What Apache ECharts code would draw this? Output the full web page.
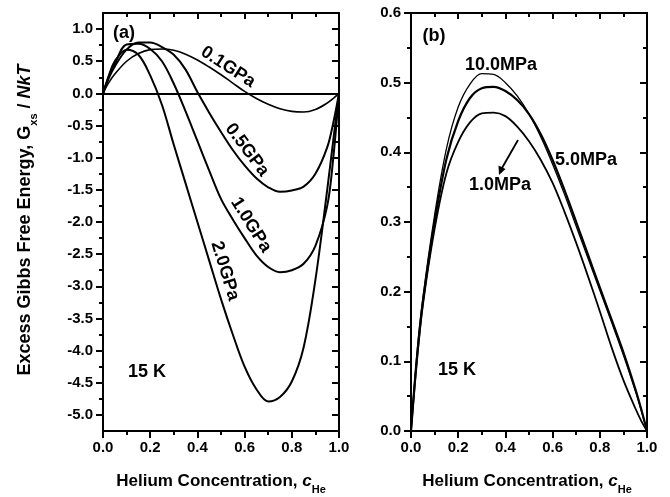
<!DOCTYPE html>
<html>
<head>
<meta charset="utf-8">
<script src="https://cdn.jsdelivr.net/npm/echarts@6/dist/echarts.min.js"></script>
<style>
html,body{margin:0;padding:0;background:#fff;}
#chart{width:670px;height:497px;}
</style>
</head>
<body>
<div id="chart"></div>
<script>
// ---------- data ----------
const conc = [0, 0.025, 0.05, 0.1, 0.15, 0.2, 0.25, 0.3, 0.35, 0.4, 0.45, 0.5, 0.55, 0.6, 0.65, 0.7, 0.75, 0.8, 0.85, 0.9, 0.95, 0.975, 1.0];

// panel (a): excess Gibbs free energy, high pressures
const g01GPa = [0, 0.17, 0.30, 0.50, 0.62, 0.68, 0.69, 0.67, 0.61, 0.52, 0.41, 0.29, 0.16, 0.03, -0.08, -0.17, -0.24, -0.28, -0.29, -0.25, -0.15, -0.08, 0];
const g05GPa = [0, 0.24, 0.42, 0.68, 0.79, 0.79, 0.72, 0.60, 0.37, 0.02, -0.30, -0.60, -0.88, -1.12, -1.32, -1.46, -1.53, -1.51, -1.45, -1.25, -0.84, -0.47, 0];
const g10GPa = [0, 0.26, 0.46, 0.76, 0.77, 0.69, 0.50, 0.15, -0.28, -0.74, -1.20, -1.64, -1.96, -2.25, -2.52, -2.70, -2.78, -2.75, -2.65, -2.37, -1.75, -1.03, 0];
const g20GPa = [0, 0.28, 0.50, 0.68, 0.60, 0.28, -0.18, -0.80, -1.40, -2.00, -2.60, -3.20, -3.75, -4.25, -4.60, -4.79, -4.72, -4.48, -3.95, -2.90, -1.50, -0.75, 0];

// panel (b): low pressures
const p10MPa = [0, 0.11, 0.19, 0.31, 0.405, 0.465, 0.498, 0.513, 0.512, 0.500, 0.481, 0.455, 0.422, 0.383, 0.340, 0.294, 0.248, 0.202, 0.156, 0.109, 0.058, 0.030, 0];
const p5MPa  = [0, 0.105, 0.185, 0.30, 0.390, 0.445, 0.478, 0.492, 0.494, 0.488, 0.475, 0.455, 0.426, 0.389, 0.346, 0.300, 0.253, 0.206, 0.160, 0.113, 0.061, 0.032, 0];
const p1MPa  = [0, 0.10, 0.18, 0.29, 0.370, 0.415, 0.443, 0.456, 0.457, 0.452, 0.437, 0.416, 0.389, 0.356, 0.315, 0.270, 0.222, 0.172, 0.120, 0.073, 0.033, 0.015, 0];

// tick values
const xTicks = [0, 0.2, 0.4, 0.6, 0.8, 1.0];
const leftYTicks = [-5.0, -4.5, -4.0, -3.5, -3.0, -2.5, -2.0, -1.5, -1.0, -0.5, 0.0, 0.5, 1.0];
const rightYTicks = [0, 0.1, 0.2, 0.3, 0.4, 0.5, 0.6];

// ---------- chart ----------
const FONT = 'Liberation Sans, Arial, sans-serif';
const leftYMinor = leftYTicks.slice(0, -1).map((v, i) => (v + leftYTicks[i + 1]) / 2);

const chart = echarts.init(document.getElementById('chart'), null, {renderer: 'canvas'});
const black = '#000';
const frameLine = {color: black, width: 2};
const tickLine = {color: black, width: 2};
const labelStyle = {color: black, fontFamily: FONT, fontWeight: 'bold', fontSize: 15};

function xAxisBottom(gi) {
  return {
    type: 'value', gridIndex: gi, position: 'bottom', min: xTicks[0], max: xTicks[xTicks.length - 1], interval: 0.2,
    axisLine: {show: true, onZero: false, lineStyle: frameLine},
    axisTick: {show: true, length: 7, lineStyle: tickLine},
    minorTick: {show: true, splitNumber: 2, length: 4, lineStyle: tickLine},
    axisLabel: Object.assign({margin: 9, formatter: v => v.toFixed(1)}, labelStyle),
    splitLine: {show: false}, minorSplitLine: {show: false}
  };
}
function xAxisTop(gi) {
  return {
    type: 'value', gridIndex: gi, position: 'top', min: xTicks[0], max: xTicks[xTicks.length - 1], interval: 0.2,
    axisLine: {show: true, onZero: false, lineStyle: frameLine},
    axisTick: {show: true, inside: true, length: 6, lineStyle: tickLine},
    minorTick: {show: true, splitNumber: 2, length: 4, lineStyle: tickLine},
    axisLabel: {show: false},
    splitLine: {show: false}, minorSplitLine: {show: false}
  };
}

function mkSeries(name, arr, xi, yi, width) {
  return {
    name: name, type: 'line', xAxisIndex: xi, yAxisIndex: yi,
    data: conc.map((c, i) => [c, arr[i]]),
    showSymbol: false, symbol: 'none', smooth: 0.35, silent: true,
    lineStyle: {color: black, width: width}, z: 3
  };
}

const lbl = (txt, x, y, rotDeg, size) => ({
  type: 'text', x: x, y: y, rotation: (rotDeg || 0) * Math.PI / 180, z: 20,
  style: {text: txt, fill: black, fontFamily: FONT, fontWeight: 'bold', fontSize: size || 18,
          align: 'center', verticalAlign: 'middle', textAlign: 'center', textVerticalAlign: 'middle'}
});

const richDefs = (fs) => ({
  m: {fontFamily: FONT, fontWeight: 'bold', fontSize: fs, lineHeight: 28, fill: black, color: black},
  i: {fontFamily: FONT, fontWeight: 'bold', fontStyle: 'italic', fontSize: fs, lineHeight: 28, fill: black, color: black},
  s: {fontFamily: FONT, fontWeight: 'bold', fontSize: 11, lineHeight: 8, verticalAlign: 'bottom', fill: black, color: black}
});

const richTitle = (text, x, y, rot, fs) => ({
  type: 'text', x: x, y: y, rotation: rot || 0, z: 20,
  style: {text: text, fill: black, align: 'center', verticalAlign: 'middle',
          textAlign: 'center', textVerticalAlign: 'middle', rich: richDefs(fs)}
});

const option = {
  animation: false,
  backgroundColor: '#fff',
  grid: [
    {left: 103, top: 13, width: 236, height: 418, containLabel: false, outerBoundsMode: 'none'},
    {left: 411, top: 13, width: 236, height: 418, containLabel: false, outerBoundsMode: 'none'}
  ],
  xAxis: [xAxisBottom(0), xAxisTop(0), xAxisBottom(1), xAxisTop(1)],
  yAxis: [
    { // 0: left panel, left, majors + labels
      type: 'value', gridIndex: 0, position: 'left', min: -5.25, max: 1.25,
      axisLine: {show: true, onZero: false, lineStyle: frameLine},
      axisTick: {show: true, length: 7, customValues: leftYTicks, lineStyle: tickLine},
      axisLabel: Object.assign({margin: 10, customValues: leftYTicks, formatter: v => v.toFixed(1)}, labelStyle),
      splitLine: {show: false}
    },
    { // 1: left panel, left, minors
      type: 'value', gridIndex: 0, position: 'left', min: -5.25, max: 1.25,
      axisLine: {show: false, onZero: false},
      axisTick: {show: true, length: 4, customValues: leftYMinor, lineStyle: tickLine},
      axisLabel: {show: false}, splitLine: {show: false}
    },
    { // 2: left panel, right frame, majors
      type: 'value', gridIndex: 0, position: 'right', min: -5.25, max: 1.25,
      axisLine: {show: true, onZero: false, lineStyle: frameLine},
      axisTick: {show: true, inside: true, length: 7, customValues: leftYTicks, lineStyle: tickLine},
      axisLabel: {show: false}, splitLine: {show: false}
    },
    { // 3: left panel, right frame, minors
      type: 'value', gridIndex: 0, position: 'right', min: -5.25, max: 1.25,
      axisLine: {show: false, onZero: false},
      axisTick: {show: true, inside: true, length: 4, customValues: leftYMinor, lineStyle: tickLine},
      axisLabel: {show: false}, splitLine: {show: false}
    },
    { // 4: right panel left
      type: 'value', gridIndex: 1, position: 'left', min: rightYTicks[0], max: rightYTicks[rightYTicks.length - 1], interval: 0.1,
      axisLine: {show: true, onZero: false, lineStyle: frameLine},
      axisTick: {show: true, length: 7, lineStyle: tickLine},
      minorTick: {show: true, splitNumber: 2, length: 4, lineStyle: tickLine},
      axisLabel: Object.assign({margin: 10, formatter: v => v.toFixed(1)}, labelStyle),
      splitLine: {show: false}, minorSplitLine: {show: false}
    },
    { // 5: right panel right frame
      type: 'value', gridIndex: 1, position: 'right', min: rightYTicks[0], max: rightYTicks[rightYTicks.length - 1], interval: 0.1,
      axisLine: {show: true, onZero: false, lineStyle: frameLine},
      axisTick: {show: true, inside: true, length: 7, lineStyle: tickLine},
      minorTick: {show: true, splitNumber: 2, length: 4, lineStyle: tickLine},
      axisLabel: {show: false},
      splitLine: {show: false}, minorSplitLine: {show: false}
    }
  ],
  series: [
    Object.assign(mkSeries('0.1GPa', g01GPa, 0, 0, 1.6), {
      markLine: {silent: true, symbol: ['none', 'none'], label: {show: false},
                 lineStyle: {color: black, width: 1.8, type: 'solid'}, data: [{yAxis: 0}]}
    }),
    mkSeries('0.5GPa', g05GPa, 0, 0, 2),
    mkSeries('1.0GPa', g10GPa, 0, 0, 2),
    mkSeries('2.0GPa', g20GPa, 0, 0, 2),
    mkSeries('10.0MPa', p10MPa, 2, 4, 1.3),
    mkSeries('5.0MPa', p5MPa, 2, 4, 2.2),
    mkSeries('1.0MPa', p1MPa, 2, 4, 1.8)
  ],
  graphic: [
    lbl('(a)', 124, 33),
    lbl('(b)', 434, 36),
    lbl('15 K', 147, 372),
    lbl('15 K', 457, 370),
    lbl('0.1GPa', 228, 67, -33),
    lbl('0.5GPa', 247, 150, -53),
    lbl('1.0GPa', 251, 225, -58),
    lbl('2.0GPa', 225, 271, -73),
    lbl('10.0MPa', 501, 65),
    lbl('5.0MPa', 586, 160),
    lbl('1.0MPa', 500, 185),
    {type: 'line', z: 20, shape: {x1: 518, y1: 140, x2: 502, y2: 168}, style: {stroke: black, lineWidth: 1.8}},
    {type: 'polygon', z: 20, shape: {points: [[499, 175], [505.5, 169], [498.5, 165.5]]}, style: {fill: black}},
    richTitle('{m|Helium Concentration, }{i|c}{s|He}', 221, 481, 0, 17),
    richTitle('{m|Helium Concentration, }{i|c}{s|He}', 527, 481, 0, 17),
    richTitle('{m|Excess Gibbs Free Energy, G}{s|xs}{m| / }{i|NkT}', 25, 220, Math.PI / 2, 18)
  ]
};
chart.setOption(option);
</script>
</body>
</html>
